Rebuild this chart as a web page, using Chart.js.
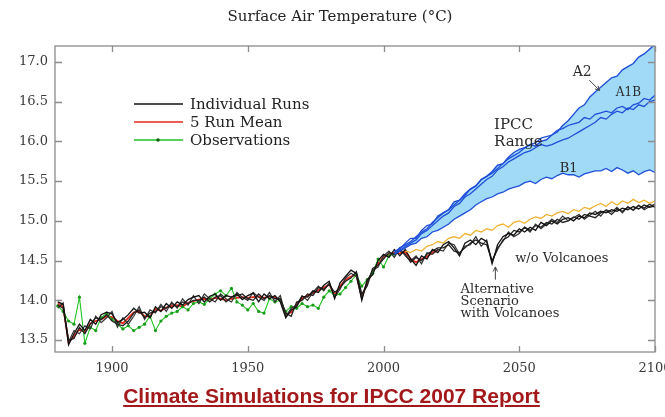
<!DOCTYPE html>
<html>
<head>
<meta charset="utf-8">
<title>Surface Air Temperature</title>
<script src="https://cdn.jsdelivr.net/npm/chart.js@4.4.0/dist/chart.umd.min.js"></script>
<style>
    html, body { margin: 0; padding: 0; background: #fff; }
    #wrap { position: relative; width: 665px; height: 417px; overflow: hidden; }
    #tempChart { position: absolute; left: 0; top: 0; }
    .title {
        position: absolute; left: 0; top: 7px; width: 680px;
        text-align: center; font: 15px "DejaVu Serif", serif; color: #222;
    }
    .caption {
        position: absolute; left: 0; top: 384px; width: 663px;
        text-align: center; font: bold 21px "Liberation Sans", Arial, sans-serif;
        color: #a3191b; text-decoration: underline;
    }
</style>
</head>
<body>
<div id="wrap">
    <canvas id="tempChart" width="665" height="417"></canvas>
    <div class="title">Surface Air Temperature (°C)</div>
    <div class="caption">Climate Simulations for IPCC 2007 Report</div>
</div>
<script>
// Axis ticks
const xTicks = [1900, 1950, 2000, 2050, 2100];
const yTicks = [13.5, 14.0, 14.5, 15.0, 15.5, 16.0, 16.5, 17.0];

// Historical period, two-year steps
const histYears = [
    1880, 1882, 1884, 1886, 1888, 1890, 1892, 1894, 1896, 1898,
    1900, 1902, 1904, 1906, 1908, 1910, 1912, 1914, 1916, 1918,
    1920, 1922, 1924, 1926, 1928, 1930, 1932, 1934, 1936, 1938,
    1940, 1942, 1944, 1946, 1948, 1950, 1952, 1954, 1956, 1958,
    1960, 1962, 1964, 1966, 1968, 1970, 1972, 1974, 1976, 1978,
    1980, 1982, 1984, 1986, 1988, 1990, 1992, 1994, 1996, 1998,
    2000, 2002, 2004, 2006, 2008, 2010, 2012, 2014, 2016, 2018,
    2020
];

const runMean = [
    13.96, 13.92, 13.47, 13.55, 13.64, 13.60, 13.71, 13.74, 13.76, 13.80,
    13.79, 13.74, 13.71, 13.78, 13.85, 13.86, 13.80, 13.80, 13.89, 13.87,
    13.91, 13.93, 13.94, 13.92, 13.97, 13.99, 14.01, 14.02, 14.01, 14.03,
    14.02, 14.00, 14.02, 14.03, 14.04, 14.03, 14.04, 14.05, 14.03, 14.05,
    14.04, 14.00, 13.82, 13.85, 13.95, 14.02, 14.06, 14.09, 14.13, 14.16,
    14.20, 14.06, 14.18, 14.26, 14.30, 14.32, 14.04, 14.22, 14.36, 14.46,
    14.55, 14.58, 14.60, 14.59, 14.61, 14.52, 14.48, 14.52, 14.55, 14.60,
    14.63
];

const runAHist = [
    13.98, 13.95, 13.44, 13.58, 13.70, 13.62, 13.76, 13.70, 13.82, 13.85,
    13.83, 13.72, 13.76, 13.82, 13.90, 13.84, 13.85, 13.78, 13.92, 13.86,
    13.96, 13.90, 13.98, 13.94, 14.01, 14.04, 14.06, 13.98, 14.05, 14.08,
    14.00, 14.06, 14.04, 14.08, 14.01, 14.06, 14.09, 13.98, 14.08, 14.02,
    14.06, 13.98, 13.78, 13.88, 13.92, 14.05, 14.04, 14.12, 14.10, 14.19,
    14.24, 14.02, 14.22, 14.30, 14.38, 14.34, 14.00, 14.26, 14.32, 14.50,
    14.58, 14.54, 14.64, 14.56, 14.64, 14.52, 14.44, 14.56, 14.52, 14.64,
    14.60
];

const runBHist = [
    13.94, 13.90, 13.50, 13.52, 13.66, 13.58, 13.70, 13.78, 13.76, 13.82,
    13.74, 13.70, 13.68, 13.74, 13.84, 13.88, 13.78, 13.84, 13.86, 13.92,
    13.90, 13.96, 13.92, 13.98, 13.96, 14.00, 14.00, 14.04, 13.98, 14.04,
    14.06, 13.98, 14.04, 14.06, 14.08, 14.02, 14.00, 14.08, 14.02, 14.06,
    14.02, 14.02, 13.84, 13.80, 13.98, 14.00, 14.08, 14.06, 14.16, 14.14,
    14.20, 14.10, 14.16, 14.24, 14.28, 14.36, 14.08, 14.18, 14.40, 14.44,
    14.52, 14.60, 14.58, 14.62, 14.58, 14.48, 14.54, 14.50, 14.58, 14.62,
    14.66
];

const runCHist = [
    13.90, 13.97, 13.48, 13.62, 13.58, 13.68, 13.64, 13.80, 13.72, 13.78,
    13.86, 13.66, 13.78, 13.70, 13.80, 13.92, 13.76, 13.88, 13.84, 13.95,
    13.86, 13.98, 13.90, 14.02, 13.94, 14.06, 13.96, 14.08, 14.02, 13.98,
    14.08, 14.02, 13.98, 14.10, 14.04, 14.00, 14.10, 14.04, 14.00, 14.10,
    13.98, 14.06, 13.80, 13.90, 13.94, 14.06, 14.00, 14.10, 14.18, 14.12,
    14.22, 14.04, 14.14, 14.28, 14.34, 14.30, 14.02, 14.24, 14.38, 14.42,
    14.56, 14.62, 14.54, 14.66, 14.56, 14.50, 14.56, 14.46, 14.60, 14.58,
    14.64
];

// Observations 1880-2004 (same two-year steps)
const observations = [
    13.93, 13.86, 13.74, 13.70, 14.04, 13.46, 13.66, 13.62, 13.78, 13.84,
    13.76, 13.70, 13.64, 13.68, 13.62, 13.66, 13.70, 13.80, 13.62, 13.74,
    13.80, 13.84, 13.86, 13.92, 13.88, 13.96, 13.98, 13.95, 14.02, 14.08,
    14.12, 14.06, 14.15, 13.98, 13.94, 13.88, 13.96, 13.86, 13.84, 14.02,
    13.98, 14.00, 13.86, 13.92, 13.90, 13.96, 13.92, 13.94, 13.90, 14.04,
    14.12, 14.06, 14.08, 14.16, 14.24, 14.32, 14.18, 14.26, 14.34, 14.52,
    14.42, 14.56, 14.58
];

// Alternative scenario with volcanoes, 2022-2100
const futYears = [
    2022, 2024, 2026, 2028, 2030, 2032, 2034, 2036, 2038, 2040,
    2042, 2044, 2046, 2048, 2050, 2052, 2054, 2056, 2058, 2060,
    2062, 2064, 2066, 2068, 2070, 2072, 2074, 2076, 2078, 2080,
    2082, 2084, 2086, 2088, 2090, 2092, 2094, 2096, 2098, 2100
];

const runAFut = [
    14.70, 14.74, 14.66, 14.56, 14.72, 14.76, 14.70, 14.78, 14.74, 14.46,
    14.70, 14.80, 14.84, 14.82, 14.90, 14.86, 14.92, 14.88, 14.98, 14.94,
    15.00, 14.96, 15.02, 15.04, 15.00, 15.06, 15.04, 15.10, 15.08, 15.12,
    15.10, 15.14, 15.12, 15.16, 15.14, 15.18, 15.15, 15.20, 15.17, 15.19
];

const runBFut = [
    14.66, 14.70, 14.62, 14.60, 14.66, 14.72, 14.76, 14.72, 14.70, 14.50,
    14.64, 14.76, 14.80, 14.88, 14.86, 14.92, 14.88, 14.94, 14.92, 14.98,
    14.96, 15.02, 14.98, 15.00, 15.05, 15.02, 15.08, 15.06, 15.04, 15.10,
    15.13, 15.08, 15.15, 15.12, 15.17, 15.14, 15.19, 15.16, 15.21, 15.17
];

const runCFut = [
    14.62, 14.72, 14.70, 14.58, 14.68, 14.70, 14.80, 14.68, 14.76, 14.48,
    14.66, 14.74, 14.86, 14.80, 14.84, 14.92, 14.86, 14.96, 14.90, 14.96,
    15.02, 14.98, 15.06, 15.00, 15.04, 15.08, 15.02, 15.07, 15.12, 15.06,
    15.14, 15.11, 15.17, 15.10, 15.18, 15.13, 15.20, 15.14, 15.18, 15.21
];

// Emission scenarios, 2004-2100
const scenYears = [
    2004, 2006, 2008,
    2010, 2012, 2014, 2016, 2018, 2020, 2022, 2024, 2026, 2028,
    2030, 2032, 2034, 2036, 2038, 2040, 2042, 2044, 2046, 2048,
    2050, 2052, 2054, 2056, 2058, 2060, 2062, 2064, 2066, 2068,
    2070, 2072, 2074, 2076, 2078, 2080, 2082, 2084, 2086, 2088,
    2090, 2092, 2094, 2096, 2098, 2100
];

const scenA2 = [
    14.60, 14.66, 14.70,
    14.74, 14.80, 14.86, 14.90, 14.98, 15.04, 15.10, 15.14, 15.24, 15.26,
    15.34, 15.40, 15.44, 15.52, 15.56, 15.62, 15.70, 15.72, 15.80, 15.86,
    15.90, 15.92, 15.96, 15.94, 16.00, 16.02, 16.08, 16.12, 16.20, 16.26,
    16.34, 16.42, 16.46, 16.56, 16.62, 16.68, 16.74, 16.80, 16.82, 16.90,
    16.94, 16.98, 17.06, 17.10, 17.16, 17.22
];

const scenA1B = [
    14.58, 14.62, 14.68,
    14.72, 14.76, 14.84, 14.88, 14.94, 15.00, 15.06, 15.10, 15.18, 15.22,
    15.30, 15.34, 15.40, 15.46, 15.52, 15.56, 15.64, 15.68, 15.74, 15.78,
    15.82, 15.86, 15.88, 15.92, 15.96, 15.94, 15.96, 15.99, 16.02, 16.04,
    16.08, 16.12, 16.16, 16.20, 16.24, 16.30, 16.28, 16.34, 16.38, 16.36,
    16.42, 16.40, 16.46, 16.44, 16.50, 16.52
];

const scenA1BRun = [
    14.62, 14.64, 14.72,
    14.78, 14.78, 14.88, 14.94, 14.96, 15.06, 15.10, 15.14, 15.20, 15.26,
    15.32, 15.40, 15.44, 15.52, 15.56, 15.60, 15.66, 15.72, 15.78, 15.82,
    15.86, 15.92, 15.96, 15.98, 16.04, 16.06, 16.08, 16.14, 16.16, 16.20,
    16.22, 16.24, 16.30, 16.28, 16.34, 16.36, 16.38, 16.36, 16.42, 16.44,
    16.40, 16.46, 16.48, 16.54, 16.52, 16.58
];

const scenB1 = [
    14.58, 14.62, 14.66,
    14.70, 14.72, 14.78, 14.80, 14.86, 14.88, 14.92, 14.96, 15.02, 15.06,
    15.10, 15.14, 15.20, 15.24, 15.28, 15.30, 15.34, 15.36, 15.40, 15.42,
    15.44, 15.48, 15.50, 15.47, 15.52, 15.55, 15.53, 15.57, 15.60, 15.58,
    15.58, 15.55, 15.59, 15.61, 15.63, 15.63, 15.66, 15.62, 15.67, 15.64,
    15.60, 15.63, 15.58, 15.62, 15.64, 15.61
];

const noVolcanoes = [
    null, null, 14.62,
    14.60, 14.64, 14.62, 14.68, 14.70, 14.74, 14.72, 14.78, 14.80, 14.78,
    14.84, 14.82, 14.88, 14.86, 14.90, 14.88, 14.94, 14.96, 14.92, 14.98,
    15.00, 14.97, 15.02, 15.05, 15.03, 15.08, 15.06, 15.10, 15.12, 15.09,
    15.14, 15.12, 15.17, 15.15, 15.19, 15.22, 15.18, 15.24, 15.20, 15.25,
    15.22, 15.27, 15.23, 15.26, 15.22, 15.25
];

// Text labels placed in data space
const notes = [
    { text: 'A2', year: 2073.2, temp: 16.87, size: 14, align: 'center' },
    { text: 'A1B', year: 2090.2, temp: 16.61, size: 12, align: 'center' },
    { text: 'IPCC', year: 2040.7, temp: 16.21, size: 15, align: 'left' },
    { text: 'Range', year: 2040.7, temp: 15.99, size: 15, align: 'left' },
    { text: 'B1', year: 2068.2, temp: 15.66, size: 13, align: 'center' },
    { text: 'w/o Volcanoes', year: 2048.5, temp: 14.53, size: 13, align: 'left' },
    { text: 'Alternative', year: 2028.4, temp: 14.13, size: 13, align: 'left' },
    { text: 'Scenario', year: 2028.4, temp: 13.98, size: 13, align: 'left' },
    { text: 'with Volcanoes', year: 2028.4, temp: 13.83, size: 13, align: 'left' }
];

const arrows = [
    { from: [2075.8, 16.77], to: [2079.6, 16.64] },
    { from: [2041.2, 14.26], to: [2041.2, 14.42] }
];

const legendRows = [
    { label: 'Individual Runs', color: '#111111', dot: false },
    { label: '5 Run Mean', color: '#e8281a', dot: false },
    { label: 'Observations', color: '#22c422', dot: true }
];

const BLUE = '#1f4fd8';
const FILL = 'rgb(160, 218, 246)';
const ORANGE = '#f0b232';
const serif = '"DejaVu Serif", serif';

function toPoints(years, values) {
    return values.map((v, i) => ({ x: years[i], y: v }));
}

function lineSet(data, color, width, extra) {
    return Object.assign({
        data: data,
        borderColor: color,
        borderWidth: width,
        pointRadius: 0,
        fill: false,
        spanGaps: false
    }, extra || {});
}

// Frame with inward ticks on all four sides
const frameTicks = {
    id: 'frameTicks',
    afterDatasetsDraw(chart) {
        const { ctx, chartArea: a, scales: { x, y } } = chart;
        ctx.save();
        ctx.strokeStyle = '#8c8c8c';
        ctx.lineWidth = 1.3;
        ctx.strokeRect(a.left, a.top, a.right - a.left, a.bottom - a.top);
        ctx.beginPath();
        xTicks.forEach(v => {
            const px = Math.round(x.getPixelForValue(v)) + 0.5;
            ctx.moveTo(px, a.bottom); ctx.lineTo(px, a.bottom - 6);
            ctx.moveTo(px, a.top); ctx.lineTo(px, a.top + 6);
        });
        yTicks.forEach(v => {
            const py = Math.round(y.getPixelForValue(v)) + 0.5;
            ctx.moveTo(a.left, py); ctx.lineTo(a.left + 7, py);
            ctx.moveTo(a.right, py); ctx.lineTo(a.right - 7, py);
        });
        ctx.stroke();
        ctx.restore();
    }
};

// Scenario names and volcano notes
const notesPlugin = {
    id: 'notes',
    afterDatasetsDraw(chart) {
        const { ctx, scales: { x, y } } = chart;
        ctx.save();
        ctx.fillStyle = '#2a2a2a';
        ctx.textBaseline = 'middle';
        notes.forEach(n => {
            ctx.font = n.size + 'px ' + serif;
            ctx.textAlign = n.align;
            ctx.fillText(n.text, x.getPixelForValue(n.year), y.getPixelForValue(n.temp));
        });
        ctx.strokeStyle = '#444';
        ctx.lineWidth = 1;
        arrows.forEach(ar => {
            const x0 = x.getPixelForValue(ar.from[0]), y0 = y.getPixelForValue(ar.from[1]);
            const x1 = x.getPixelForValue(ar.to[0]), y1 = y.getPixelForValue(ar.to[1]);
            const ang = Math.atan2(y1 - y0, x1 - x0);
            ctx.beginPath();
            ctx.moveTo(x0, y0);
            ctx.lineTo(x1, y1);
            ctx.moveTo(x1, y1);
            ctx.lineTo(x1 - 5 * Math.cos(ang - 0.45), y1 - 5 * Math.sin(ang - 0.45));
            ctx.moveTo(x1, y1);
            ctx.lineTo(x1 - 5 * Math.cos(ang + 0.45), y1 - 5 * Math.sin(ang + 0.45));
            ctx.stroke();
        });
        ctx.restore();
    }
};

// Legend inside the plot, upper left
const legendPlugin = {
    id: 'insideLegend',
    afterDatasetsDraw(chart) {
        const { ctx } = chart;
        ctx.save();
        ctx.font = '15px ' + serif;
        ctx.textAlign = 'left';
        ctx.textBaseline = 'middle';
        legendRows.forEach((row, i) => {
            const ly = 104 + i * 18;
            ctx.strokeStyle = row.color;
            ctx.lineWidth = 1.5;
            ctx.beginPath();
            ctx.moveTo(134, ly);
            ctx.lineTo(183, ly);
            ctx.stroke();
            if (row.dot) {
                ctx.fillStyle = '#116611';
                ctx.beginPath();
                ctx.arc(158, ly, 1.8, 0, Math.PI * 2);
                ctx.fill();
            }
            ctx.fillStyle = '#222';
            ctx.fillText(row.label, 190, ly + 1);
        });
        ctx.restore();
    }
};

document.addEventListener('DOMContentLoaded', () => {
    const ctx = document.getElementById('tempChart').getContext('2d');

    const datasets = [
        lineSet(toPoints(scenYears, scenB1), BLUE, 1.3),
        lineSet(toPoints(scenYears, scenA1BRun), BLUE, 1.3),
        lineSet(toPoints(scenYears, scenA1B), BLUE, 1.3),
        lineSet(toPoints(scenYears, scenA2), BLUE, 1.4, { fill: 0, backgroundColor: FILL }),
        lineSet(toPoints(scenYears, noVolcanoes), ORANGE, 1.3),
        lineSet(toPoints(histYears, runAHist).concat(toPoints(futYears, runAFut)), '#111', 1.3),
        lineSet(toPoints(histYears, runBHist).concat(toPoints(futYears, runBFut)), '#222', 1.3),
        lineSet(toPoints(histYears, runCHist).concat(toPoints(futYears, runCFut)), '#333', 1.2),
        lineSet(toPoints(histYears, observations), '#22c422', 1.1, {
            pointRadius: 1.6, pointBackgroundColor: '#1a9a1a', pointBorderWidth: 0
        }),
        lineSet(toPoints(histYears, runMean), '#e8281a', 1.8)
    ];

    new Chart(ctx, {
        type: 'line',
        data: { datasets },
        options: {
            responsive: false,
            animation: false,
            devicePixelRatio: 1,
            layout: { padding: { top: 46, right: 10, left: 0, bottom: 0 } },
            elements: { line: { tension: 0 } },
            plugins: {
                legend: { display: false },
                tooltip: { enabled: false },
                filler: { drawTime: 'beforeDatasetsDraw' }
            },
            scales: {
                x: {
                    type: 'linear',
                    min: 1879,
                    max: 2100,
                    afterBuildTicks: s => { s.ticks = xTicks.map(v => ({ value: v })); },
                    afterFit: s => {
                        s.height = 65;
                        s.paddingLeft = 0;
                        s.paddingRight = 0;
                    },
                    grid: { display: false, drawTicks: false },
                    border: { display: false },
                    ticks: {
                        padding: 9,
                        maxRotation: 0,
                        autoSkip: false,
                        color: '#3a3a3a',
                        font: { family: serif, size: 13 },
                        callback: v => String(v)
                    }
                },
                y: {
                    type: 'linear',
                    min: 13.35,
                    max: 17.2,
                    afterBuildTicks: s => { s.ticks = yTicks.map(v => ({ value: v })); },
                    afterFit: s => { s.width = 55; },
                    grid: { display: false, drawTicks: false },
                    border: { display: false },
                    ticks: {
                        padding: 7,
                        autoSkip: false,
                        color: '#3a3a3a',
                        font: { family: serif, size: 13 },
                        callback: v => v.toFixed(1)
                    }
                }
            }
        },
        plugins: [frameTicks, notesPlugin, legendPlugin]
    });
});
</script>
</body>
</html>
